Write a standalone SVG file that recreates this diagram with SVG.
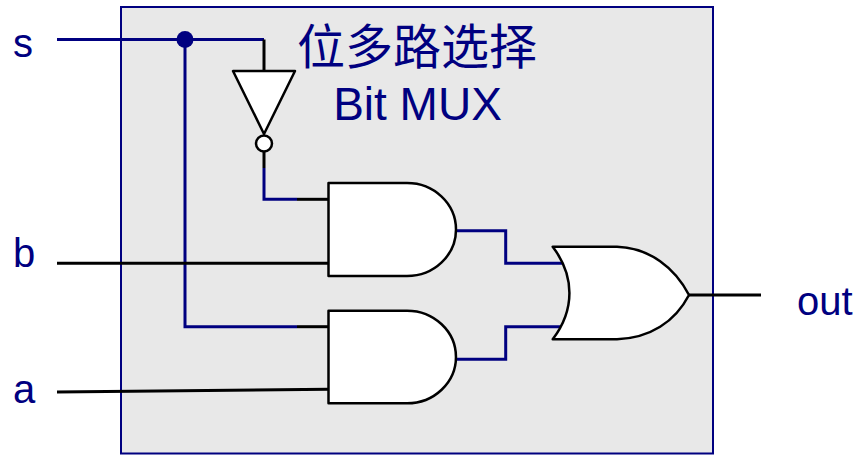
<svg xmlns="http://www.w3.org/2000/svg" width="859" height="455" viewBox="0 0 859 455">
<style>
.lbl{font-family:"Liberation Sans","Noto Sans CJK SC",sans-serif;fill:#000080}
.w{fill:none;stroke:#000080;stroke-width:3;stroke-linejoin:miter}
.k{fill:none;stroke:#000;stroke-width:3}
.g{fill:#fff;stroke:#000;stroke-width:2.5;stroke-linejoin:round}
</style>
<rect width="859" height="455" fill="#fff"/>
<g id="mux-box">
<rect x="121" y="7" width="592" height="446.5" fill="#e8e8e8" stroke="#000080" stroke-width="2"/>
<text class="lbl" x="417" y="64" font-size="48" text-anchor="middle">位多路选择</text>
<text class="lbl" x="417.5" y="120" font-size="46" text-anchor="middle">Bit MUX</text>
</g>
<g id="connectors">
<path class="w" d="M57,39.5 H264"/>
<path class="k" d="M264,39.5 V72"/>
<path class="w" d="M185,39.5 V326.7 H297"/>
<path class="k" d="M297,326.7 H329"/>
<path class="k" d="M264,152 V168"/>
<path class="w" d="M264,168 V199.3 H297"/>
<path class="k" d="M297,199.3 H329"/>
<path class="k" d="M57,263.3 H329"/>
<path class="k" d="M57,392 L329,389.3"/>
<path class="w" d="M455,230.7 H505.7 V263.3 H564"/>
<path class="w" d="M455,359.3 H505.7 V326.7 H564"/>
<path class="k" d="M688,295 H761"/>
<circle cx="185" cy="39.5" r="8.5" fill="#000080"/>
</g>
<g id="not-gate">
<path class="g" d="M233,71 H295 L264,134 Z"/>
<circle class="g" cx="264" cy="143.5" r="8"/>
</g>
<g id="and-gate-1">
<path class="g" d="M328.5,183 H407 A49,46.5 0 0 1 407,276 H328.5 Z"/>
</g>
<g id="and-gate-2">
<path class="g" d="M328.5,310.7 H407 A49,46.3 0 0 1 407,403.3 H328.5 Z"/>
</g>
<g id="or-gate">
<path class="g" d="M552.7,246.7 H617 C650,248 675,268 689,295 C675,322 650,338 617,339.3 H552.7 C575,310 575,276 552.7,246.7 Z"/>
</g>
<g id="labels">
<text class="lbl" x="13" y="57" font-size="40">s</text>
<text class="lbl" x="13" y="267" font-size="40">b</text>
<text class="lbl" x="13" y="403" font-size="40">a</text>
<text class="lbl" x="797" y="315" font-size="40">out</text>
</g>
</svg>
